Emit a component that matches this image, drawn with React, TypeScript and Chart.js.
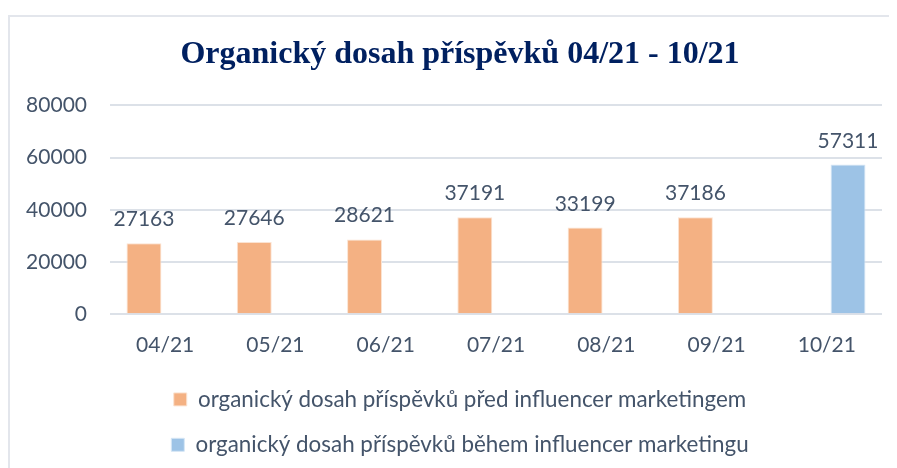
import React, { useEffect, useRef } from "react";
import { Chart, registerables } from "chart.js";

Chart.register(...registerables);

const categories = ["04/21", "05/21", "06/21", "07/21", "08/21", "09/21", "10/21"];
const beforeValues = [27163, 27646, 28621, 37191, 33199, 37186, null];
const duringValues = [null, null, null, null, null, null, 57311];
const seriesNames = [
  "organický dosah příspěvků před influencer marketingem",
  "organický dosah příspěvků během influencer marketingu",
];
const yTicks = [0, 20000, 40000, 60000, 80000];
const titleText = "Organický dosah příspěvků 04/21 - 10/21";

const TEXT = "#44546A";
const FONT = "Lato, 'Open Sans', sans-serif";

const valueLabels = {
  id: "valueLabels",
  afterDatasetsDraw(chart: any) {
    const ctx = chart.ctx;
    ctx.save();
    ctx.font = `21px ${FONT}`;
    ctx.fillStyle = TEXT;
    ctx.textAlign = "center";
    ctx.textBaseline = "alphabetic";
    chart.data.datasets.forEach((ds: any, di: number) => {
      const meta = chart.getDatasetMeta(di);
      meta.data.forEach((el: any, i: number) => {
        const v = ds.data[i];
        if (v === null || v === undefined) return;
        ctx.fillText(String(v), el.x, el.y - 17);
      });
    });
    ctx.restore();
  },
};

// shift the title and legend so they centre on the (wider) original chart frame
const shiftBlocks = {
  id: "shiftBlocks",
  afterLayout(chart: any) {
    const dx = 14;
    [chart.titleBlock, chart.legend].forEach((b: any) => {
      if (!b) return;
      b.left += dx;
      b.right += dx;
    });
  },
};

export default function App() {
  const ref = useRef<HTMLCanvasElement | null>(null);
  useEffect(() => {
    if (!ref.current) return;
    const chart = new Chart(ref.current, {
      type: "bar",
      data: {
        labels: categories,
        datasets: [
          {
            label: seriesNames[0],
            data: beforeValues,
            backgroundColor: "#F4B183",
            borderColor: "#FBE3D2",
            borderWidth: 1,
            categoryPercentage: 0.768,
            barPercentage: 0.825,
          },
          {
            label: seriesNames[1],
            data: duringValues,
            backgroundColor: "#9DC3E6",
            borderColor: "#D6E6F5",
            borderWidth: 1,
            categoryPercentage: 0.768,
            barPercentage: 0.825,
          },
        ],
      },
      options: {
        animation: false,
        responsive: false,
        maintainAspectRatio: false,
        layout: { padding: { left: 0, right: 15, top: 0, bottom: 2 } },
        plugins: {
          title: {
            display: true,
            text: titleText,
            color: "#002060",
            font: { family: "'Liberation Serif', 'Times New Roman', serif", size: 32, weight: "bold" },
            padding: { top: 19, bottom: 31 },
          },
          legend: {
            position: "bottom",
            labels: {
              color: TEXT,
              font: { family: FONT, size: 22.4 },
              boxWidth: 13,
              boxHeight: 13,
              padding: 23,
            },
          },
          tooltip: { enabled: false },
        },
        scales: {
          x: {
            grid: { display: false, drawTicks: false },
            border: { display: false },
            ticks: { color: TEXT, font: { family: FONT, size: 21 }, padding: 18 },
            afterFit: (scale: any) => {
              scale.height = 51;
            },
          },
          y: {
            min: 0,
            max: 80000,
            afterBuildTicks: (scale: any) => {
              scale.ticks = yTicks.map((v) => ({ value: v }));
            },
            afterFit: (scale: any) => {
              scale.width = 100;
            },
            grid: { color: "#DCE1E8", lineWidth: 2, drawTicks: false },
            border: { display: false },
            ticks: {
              color: TEXT,
              font: { family: FONT, size: 21 },
              padding: 23,
              callback: (v: any) => String(v),
            },
          },
        },
      },
      plugins: [valueLabels, shiftBlocks],
    });
    return () => chart.destroy();
  }, []);
  return (
    <div
      style={{
        marginTop: 7,
        borderTop: "2px solid #E3E6EC",
        borderLeft: "2px solid #E3E6EC",
        width: 889,
        height: 453,
        boxSizing: "border-box",
        overflow: "hidden",
        background: "#fff",
      }}
    >
      <canvas ref={ref} width={887} height={451} style={{ display: "block" }} />
    </div>
  );
}
